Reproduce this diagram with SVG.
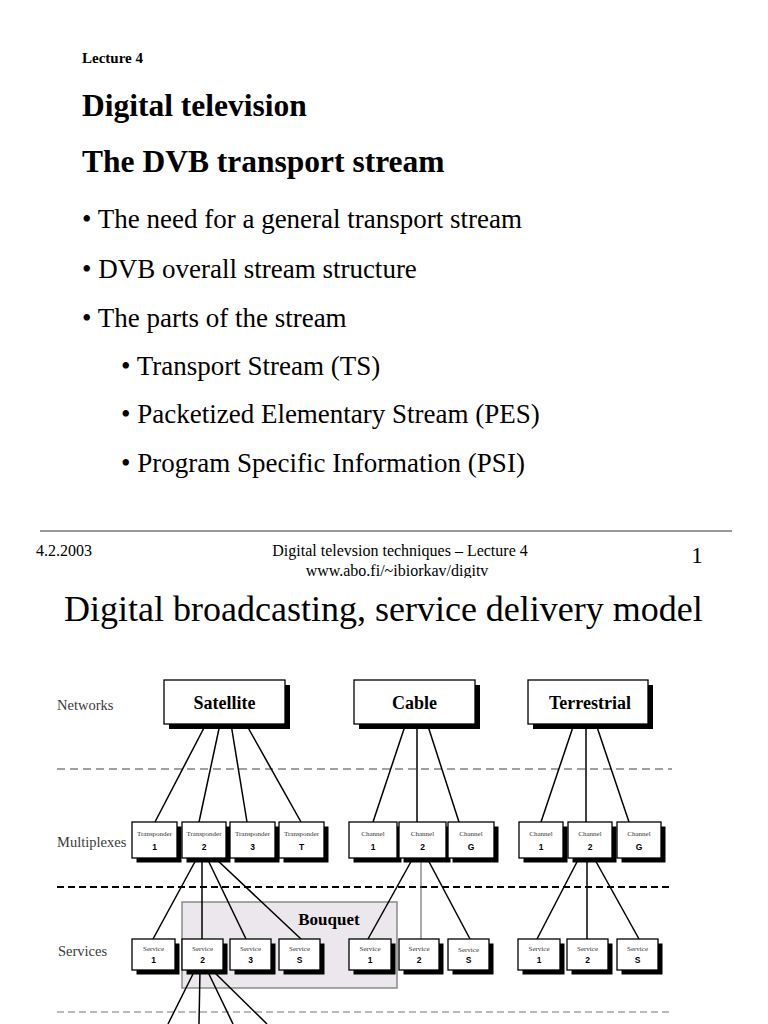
<svg xmlns="http://www.w3.org/2000/svg" width="768" height="1024" viewBox="0 0 768 1024">
<style>
  .serif{font-family:"Liberation Serif","Times New Roman",serif;fill:#000}
  .bold{font-weight:bold}
  .lvl{font-family:"Liberation Serif","Times New Roman",serif;font-size:14.5px;fill:#3a3a3a}
  .box{fill:#fff;stroke:#000;stroke-width:1.3}
  .shd{fill:#000}
  .net{font-family:"Liberation Serif","Times New Roman",serif;font-weight:bold;font-size:18px;text-anchor:middle;fill:#000}
  .lab{font-family:"Liberation Serif","Times New Roman",serif;font-size:7px;text-anchor:middle;fill:#333}
  .num{font-family:"Liberation Sans",Arial,sans-serif;font-weight:bold;font-size:8.5px;text-anchor:middle;fill:#000}
  .cn{stroke:#000;stroke-width:1.5;fill:none}
</style>
<defs>
  <clipPath id="footclip"><rect x="0" y="0" width="768" height="578"/></clipPath>
</defs>
<rect width="768" height="1024" fill="#fff"/>

<!-- Slide 1 -->
<g id="slide1">
  <text class="serif bold" x="82" y="63" font-size="15">Lecture 4</text>
  <text class="serif bold" x="82" y="116" font-size="31.5">Digital television</text>
  <text class="serif bold" x="82" y="172" font-size="31.5">The DVB transport stream</text>
  <text class="serif" x="82" y="228" font-size="27">• The need for a general transport stream</text>
  <text class="serif" x="82" y="278" font-size="27">• DVB overall stream structure</text>
  <text class="serif" x="82" y="327" font-size="27">• The parts of the stream</text>
  <text class="serif" x="121" y="375" font-size="27">• Transport Stream (TS)</text>
  <text class="serif" x="121" y="423" font-size="27">• Packetized Elementary Stream (PES)</text>
  <text class="serif" x="121" y="472" font-size="27">• Program Specific Information (PSI)</text>
  <line x1="40" y1="531" x2="732" y2="531" stroke="#333" stroke-width="1.2"/>
  <g clip-path="url(#footclip)">
    <text class="serif" x="36" y="556" font-size="16">4.2.2003</text>
    <text class="serif" x="400" y="556" font-size="16" text-anchor="middle">Digital televsion techniques – Lecture 4</text>
    <text class="serif" x="397" y="576" font-size="16" text-anchor="middle">www.abo.fi/~ibiorkav/digitv</text>
  </g>
  <text class="serif" x="697" y="563" font-size="23" text-anchor="middle">1</text>
</g>

<!-- Slide 2 -->
<text class="serif" x="64" y="621" font-size="36">Digital broadcasting, service delivery model</text>

<g id="levels">
  <text class="lvl" x="57" y="710">Networks</text>
  <text class="lvl" x="57" y="847">Multiplexes</text>
  <text class="lvl" x="58" y="956">Services</text>
</g>

<g id="separators">
  <line x1="57" y1="769" x2="672" y2="769" stroke="#444" stroke-width="1.2" stroke-dasharray="8 5"/>
  <line x1="57" y1="887" x2="672" y2="887" stroke="#000" stroke-width="2" stroke-dasharray="7 4"/>
  <line x1="57" y1="1012" x2="672" y2="1012" stroke="#777" stroke-width="1.2" stroke-dasharray="7 4"/>
</g>

<g id="bouquet">
  <rect x="182" y="902" width="215" height="86" fill="#ebe7ec" stroke="#8a8a8a" stroke-width="1.5"/>
  <text class="serif bold" x="329" y="925" font-size="17" text-anchor="middle">Bouquet</text>
</g>

<g id="connectors">
  <line class="cn" x1="206" y1="724" x2="155" y2="822"/>
  <line class="cn" x1="220" y1="724" x2="199" y2="822"/>
  <line class="cn" x1="231" y1="724" x2="247" y2="822"/>
  <line class="cn" x1="246" y1="724" x2="301" y2="822"/>
  <line class="cn" x1="406" y1="723" x2="373" y2="822"/>
  <line class="cn" x1="417" y1="723" x2="417" y2="822"/>
  <line class="cn" x1="427" y1="723" x2="459" y2="822"/>
  <line class="cn" x1="574" y1="724" x2="541" y2="822"/>
  <line class="cn" x1="586" y1="724" x2="586" y2="822"/>
  <line class="cn" x1="596" y1="724" x2="629" y2="822"/>
  <line class="cn" x1="197" y1="858" x2="153" y2="939"/>
  <line class="cn" x1="202" y1="858" x2="202" y2="939"/>
  <line class="cn" x1="207" y1="858" x2="246" y2="939"/>
  <line class="cn" x1="215" y1="858" x2="301" y2="939"/>
  <line class="cn" x1="413" y1="858" x2="368" y2="939"/>
  <line x1="421" y1="858" x2="421" y2="939" stroke="#555" stroke-width="1"/>
  <line class="cn" x1="427" y1="858" x2="470" y2="939"/>
  <line class="cn" x1="579" y1="858" x2="537" y2="939"/>
  <line class="cn" x1="587" y1="858" x2="587" y2="939"/>
  <line class="cn" x1="594" y1="858" x2="639" y2="939"/>
  <line class="cn" x1="195" y1="970" x2="168" y2="1024"/>
  <line class="cn" x1="200" y1="970" x2="199" y2="1024"/>
  <line class="cn" x1="207" y1="970" x2="233" y2="1024"/>
  <line class="cn" x1="212" y1="970" x2="267" y2="1024"/>
</g>

<!-- Networks -->
<g id="net-satellite">
  <rect class="shd" x="169" y="685" width="121" height="44"/>
  <rect class="box" x="164" y="680" width="121" height="44"/>
  <text class="net" x="224.5" y="709">Satellite</text>
</g>
<g id="net-cable">
  <rect class="shd" x="359" y="685" width="121" height="44"/>
  <rect class="box" x="354" y="680" width="121" height="44"/>
  <text class="net" x="414.5" y="709">Cable</text>
</g>
<g id="net-terrestrial">
  <rect class="shd" x="533" y="685" width="120" height="44"/>
  <rect class="box" x="528" y="680" width="120" height="44"/>
  <text class="net" x="590" y="709">Terrestrial</text>
</g>

<!-- Multiplexes -->
<g id="tp1"><rect class="shd" x="136.5" y="826.5" width="45" height="36"/><rect class="box" x="132" y="822" width="45" height="36"/><text class="lab" x="154.5" y="836">Transponder</text><text class="num" x="154.5" y="850">1</text></g>
<g id="tp2"><rect class="shd" x="186.5" y="826.5" width="44" height="36"/><rect class="box" x="182" y="822" width="44" height="36"/><text class="lab" x="204" y="836">Transponder</text><text class="num" x="204" y="850">2</text></g>
<g id="tp3"><rect class="shd" x="234.5" y="826.5" width="45" height="36"/><rect class="box" x="230" y="822" width="45" height="36"/><text class="lab" x="252.5" y="836">Transponder</text><text class="num" x="252.5" y="850">3</text></g>
<g id="tpT"><rect class="shd" x="283.5" y="826.5" width="45" height="36"/><rect class="box" x="279" y="822" width="45" height="36"/><text class="lab" x="301.5" y="836">Transponder</text><text class="num" x="301.5" y="850">T</text></g>

<g id="cch1"><rect class="shd" x="353.5" y="826.5" width="48" height="36"/><rect class="box" x="349" y="822" width="48" height="36"/><text class="lab" x="373" y="836">Channel</text><text class="num" x="373" y="850">1</text></g>
<g id="cch2"><rect class="shd" x="403.5" y="826.5" width="47" height="36"/><rect class="box" x="399" y="822" width="47" height="36"/><text class="lab" x="422.5" y="836">Channel</text><text class="num" x="422.5" y="850">2</text></g>
<g id="cchG"><rect class="shd" x="452.5" y="826.5" width="46" height="36"/><rect class="box" x="448" y="822" width="46" height="36"/><text class="lab" x="471" y="836">Channel</text><text class="num" x="471" y="850">G</text></g>

<g id="tch1"><rect class="shd" x="523.5" y="826.5" width="44" height="36"/><rect class="box" x="519" y="822" width="44" height="36"/><text class="lab" x="541" y="836">Channel</text><text class="num" x="541" y="850">1</text></g>
<g id="tch2"><rect class="shd" x="572.5" y="826.5" width="44" height="36"/><rect class="box" x="568" y="822" width="44" height="36"/><text class="lab" x="590" y="836">Channel</text><text class="num" x="590" y="850">2</text></g>
<g id="tchG"><rect class="shd" x="621.5" y="826.5" width="44" height="36"/><rect class="box" x="617" y="822" width="44" height="36"/><text class="lab" x="639" y="836">Channel</text><text class="num" x="639" y="850">G</text></g>

<!-- Services -->
<g id="ss1"><rect class="shd" x="136.5" y="943.5" width="43" height="31"/><rect class="box" x="132" y="939" width="43" height="31"/><text class="lab" x="153.5" y="951">Service</text><text class="num" x="153.5" y="963">1</text></g>
<g id="ss2"><rect class="shd" x="186.5" y="943.5" width="41" height="31"/><rect class="box" x="182" y="939" width="41" height="31"/><text class="lab" x="202.5" y="951">Service</text><text class="num" x="202.5" y="963">2</text></g>
<g id="ss3"><rect class="shd" x="234.5" y="943.5" width="41" height="31"/><rect class="box" x="230" y="939" width="41" height="31"/><text class="lab" x="250.5" y="951">Service</text><text class="num" x="250.5" y="963">3</text></g>
<g id="ssS"><rect class="shd" x="283.5" y="943.5" width="41" height="31"/><rect class="box" x="279" y="939" width="41" height="31"/><text class="lab" x="299.5" y="951">Service</text><text class="num" x="299.5" y="963">S</text></g>

<g id="cs1"><rect class="shd" x="353.5" y="943.5" width="42" height="31"/><rect class="box" x="349" y="939" width="42" height="31"/><text class="lab" x="370" y="951">Service</text><text class="num" x="370" y="963">1</text></g>
<g id="cs2"><rect class="shd" x="403.5" y="943.5" width="40" height="31"/><rect class="box" x="399" y="939" width="40" height="31"/><text class="lab" x="419" y="951">Service</text><text class="num" x="419" y="963">2</text></g>
<g id="csS"><rect class="shd" x="452.5" y="943.5" width="41" height="31"/><rect class="box" x="448" y="939" width="41" height="31"/><text class="lab" x="468.5" y="952">Service</text><text class="num" x="468.5" y="963">S</text></g>

<g id="ts1"><rect class="shd" x="522.5" y="943.5" width="42" height="31"/><rect class="box" x="518" y="939" width="42" height="31"/><text class="lab" x="539" y="951">Service</text><text class="num" x="539" y="963">1</text></g>
<g id="ts2"><rect class="shd" x="571.5" y="943.5" width="41" height="31"/><rect class="box" x="567" y="939" width="41" height="31"/><text class="lab" x="587.5" y="951">Service</text><text class="num" x="587.5" y="963">2</text></g>
<g id="tsS"><rect class="shd" x="621.5" y="943.5" width="41" height="31"/><rect class="box" x="617" y="939" width="41" height="31"/><text class="lab" x="637.5" y="951">Service</text><text class="num" x="637.5" y="963">S</text></g>
</svg>
